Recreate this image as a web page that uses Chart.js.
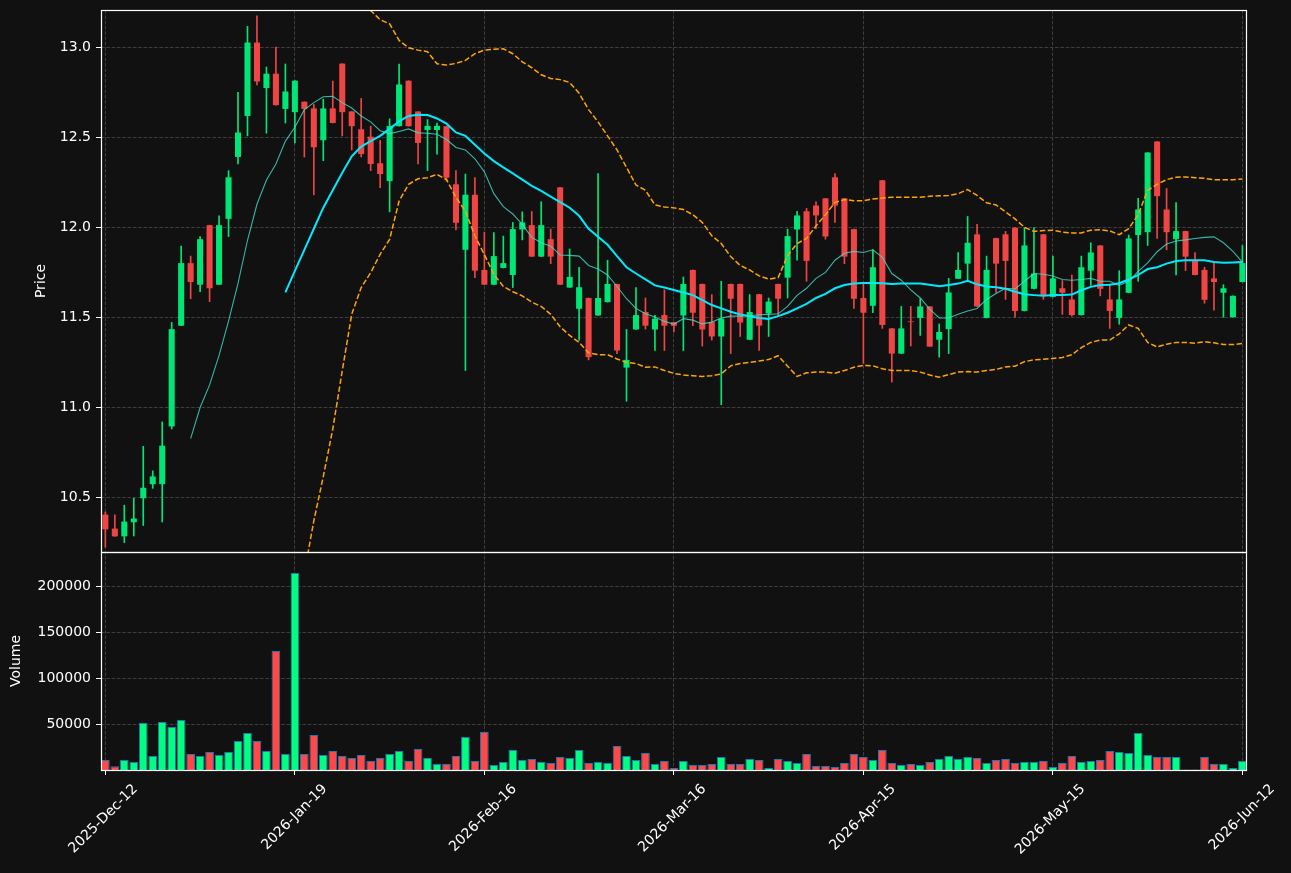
<!DOCTYPE html>
<html>
<head>
<meta charset="utf-8">
<script src="https://cdn.jsdelivr.net/npm/chart.js@4.4.1/dist/chart.umd.min.js"></script>
<style>
  html, body { margin: 0; padding: 0; background: #111111; }
  #wrap { width: 1291px; height: 873px; }
</style>
</head>
<body>
<div id="wrap"><canvas id="c" width="1291" height="873"></canvas></div>
<script>
// ---- data ----
const tickIndex = [0, 20, 40, 60, 80, 100, 120];
const tickLabels = ['2025-Dec-12', '2026-Jan-19', '2026-Feb-16', '2026-Mar-16', '2026-Apr-15', '2026-May-15', '2026-Jun-12'];
const priceTicks = [10.5, 11.0, 11.5, 12.0, 12.5, 13.0];
const volumeTicks = [50000, 100000, 150000, 200000];

const opens = [10.405,10.327,10.284,10.362,10.496,10.574,10.574,10.895,11.455,11.803,
11.683,12.014,11.683,12.049,12.393,12.621,13.029,12.776,12.856,12.66,
12.642,12.70,12.663,12.486,12.663,12.912,12.646,12.547,12.506,12.358,
12.259,12.564,12.817,12.646,12.543,12.543,12.564,12.241,11.877,12.183,
11.765,11.683,11.776,11.737,11.99,12.014,11.839,11.936,12.224,11.667,
11.549,11.609,11.512,11.586,11.687,11.222,11.434,11.531,11.434,11.514,
11.475,11.512,11.765,11.687,11.475,11.395,11.687,11.687,11.377,11.63,
11.523,11.687,11.722,11.99,12.091,12.123,12.163,12.28,12.163,11.992,
11.609,11.566,12.263,11.44,11.30,11.479,11.498,11.562,11.377,11.436,
11.716,11.80,11.963,11.498,11.942,11.963,12.0,11.537,11.66,11.963,
11.615,11.663,11.601,11.514,11.761,11.901,11.601,11.498,11.638,11.959,
11.975,12.479,12.101,11.936,11.981,11.819,11.765,11.718,11.638,11.502,
11.698];
const highs = [10.42,10.403,10.457,10.496,10.784,10.648,10.92,11.473,11.897,11.842,
11.951,12.014,12.066,12.317,12.753,13.119,13.177,12.893,13.004,12.91,
12.817,12.70,12.685,12.714,12.815,12.912,12.646,12.718,12.564,12.486,
12.605,12.909,12.817,12.646,12.601,12.582,12.564,12.317,12.298,12.278,
11.975,11.973,11.953,12.029,12.088,12.09,12.144,11.992,12.224,11.881,
11.78,11.609,12.30,11.819,11.687,11.434,11.667,11.609,11.512,11.654,
11.475,11.726,11.765,11.687,11.628,11.702,11.687,11.687,11.628,11.63,
11.609,11.687,11.992,12.091,12.107,12.144,12.163,12.30,12.163,11.992,
11.687,11.877,12.263,11.44,11.562,11.562,11.605,11.562,11.465,11.718,
11.862,12.062,12.018,11.842,11.942,11.979,12.0,12.0,12.0,11.963,
11.842,11.706,11.737,11.842,11.916,11.901,11.683,11.761,11.959,12.163,
12.418,12.479,12.218,12.14,11.981,11.862,11.78,11.803,11.683,11.621,
11.901];
const lows = [10.224,10.284,10.249,10.286,10.344,10.551,10.364,10.881,11.455,11.605,
11.644,11.589,11.683,11.951,12.354,12.51,12.794,12.525,12.681,12.582,
12.471,12.393,12.183,12.372,12.582,12.51,12.432,12.393,12.317,12.222,
12.088,12.564,12.564,12.354,12.317,12.409,12.26,11.988,11.206,11.722,
11.683,11.683,11.776,11.667,11.932,11.839,11.839,11.80,11.683,11.667,
11.375,11.265,11.512,11.586,11.30,11.035,11.434,11.436,11.317,11.317,
11.42,11.317,11.455,11.342,11.375,11.016,11.30,11.395,11.377,11.317,
11.395,11.512,11.609,11.819,11.702,11.994,11.936,12.029,11.80,11.551,
11.245,11.527,11.44,11.142,11.30,11.342,11.401,11.339,11.28,11.30,
11.716,11.702,11.562,11.498,11.64,11.601,11.502,11.537,11.66,11.601,
11.615,11.518,11.508,11.514,11.679,11.621,11.44,11.463,11.638,11.702,
11.901,11.94,11.877,11.737,11.761,11.737,11.58,11.541,11.502,11.502,
11.698];
const closes = [10.323,10.284,10.366,10.383,10.554,10.617,10.788,11.436,11.803,11.698,
11.936,11.663,12.014,12.28,12.529,13.029,12.813,12.856,12.681,12.757,
12.817,12.66,12.447,12.663,12.582,12.642,12.564,12.409,12.354,12.298,
12.566,12.796,12.564,12.471,12.566,12.566,12.278,12.027,12.183,11.761,
11.683,11.842,11.803,11.992,12.029,11.839,12.014,11.839,11.683,11.726,
11.669,11.28,11.609,11.687,11.317,11.265,11.514,11.455,11.494,11.455,
11.455,11.687,11.527,11.434,11.395,11.494,11.605,11.473,11.531,11.455,
11.589,11.605,11.953,12.068,11.815,12.068,11.951,12.123,11.839,11.605,
11.527,11.78,11.459,11.30,11.44,11.475,11.562,11.339,11.42,11.64,
11.765,11.916,11.562,11.765,11.80,11.815,11.537,11.901,11.745,11.625,
11.718,11.638,11.514,11.78,11.862,11.66,11.537,11.601,11.94,12.101,
12.418,12.175,11.975,11.981,11.839,11.737,11.599,11.698,11.663,11.621,
11.803];
const volumes = [10900,4000,10900,8700,51100,15200,52200,46700,54300,17400,
15200,19600,16300,19600,31500,40200,31500,20700,129300,17400,
214100,17400,38000,16300,20700,15200,13000,16300,9800,13000,
17400,20700,9800,22800,13000,6500,6500,15200,35900,9800,
41300,5400,8700,21700,10900,12000,8700,7600,14100,13000,
21700,7600,8700,7600,26100,15200,10900,18500,6500,9800,
2200,9800,5400,5400,6500,14100,6500,6500,12000,10900,
2200,12000,9800,7600,17400,4300,4300,3300,7600,17400,
14100,10900,21700,7600,5400,6500,5400,8700,12000,15200,
12000,14100,13000,7600,10900,12000,7600,8700,8700,9800,
3300,7600,15200,8700,9800,10900,20700,19600,18500,40200,
16300,14100,14100,14100,600,600,14100,6500,6500,2200,
9800];
const sma10 = [null,null,null,null,null,null,null,null,null,10.827,
11.0,11.126,11.29,11.48,11.69,11.93,12.13,12.265,12.354,12.481,
12.558,12.656,12.695,12.728,12.73,12.695,12.665,12.621,12.588,12.539,
12.523,12.535,12.549,12.527,12.525,12.519,12.49,12.446,12.432,12.383,
12.31,12.189,12.117,12.076,12.018,11.946,11.916,11.897,11.848,11.846,
11.842,11.79,11.77,11.737,11.673,11.605,11.551,11.521,11.504,11.479,
11.463,11.494,11.486,11.465,11.475,11.498,11.508,11.508,11.51,11.516,
11.518,11.521,11.562,11.624,11.663,11.718,11.751,11.819,11.858,11.868,
11.862,11.877,11.835,11.745,11.708,11.654,11.609,11.547,11.498,11.498,
11.519,11.537,11.551,11.601,11.634,11.663,11.659,11.702,11.745,11.741,
11.731,11.712,11.708,11.712,11.718,11.702,11.702,11.679,11.702,11.757,
11.804,11.866,11.909,11.926,11.932,11.94,11.946,11.949,11.916,11.868,
11.809];
const sma20 = [null,null,null,null,null,null,null,null,null,null,
null,null,null,null,null,null,null,null,null,11.64,
11.76,11.877,11.994,12.111,12.208,12.305,12.397,12.451,12.481,12.51,
12.549,12.591,12.621,12.628,12.626,12.607,12.578,12.529,12.51,12.461,
12.412,12.37,12.335,12.302,12.267,12.232,12.204,12.173,12.142,12.111,
12.066,11.994,11.949,11.905,11.842,11.78,11.745,11.712,11.679,11.667,
11.654,11.64,11.625,11.597,11.57,11.551,11.533,11.518,11.508,11.498,
11.492,11.508,11.527,11.551,11.576,11.609,11.632,11.663,11.681,11.689,
11.693,11.693,11.691,11.687,11.689,11.689,11.689,11.683,11.675,11.681,
11.689,11.704,11.685,11.673,11.669,11.66,11.644,11.63,11.625,11.621,
11.626,11.625,11.628,11.652,11.671,11.681,11.683,11.691,11.712,11.737,
11.77,11.78,11.8,11.815,11.819,11.819,11.819,11.809,11.805,11.807,
11.809];
const bbUpper = [null,null,null,null,null,null,null,null,null,null,
null,null,null,null,null,null,null,null,null,13.61,
13.64,13.68,13.62,13.6,13.54,13.41,13.28,13.24,13.207,13.156,
13.133,13.041,13.0,12.987,12.978,12.911,12.904,12.913,12.93,12.967,
12.987,12.992,12.994,12.967,12.922,12.889,12.85,12.829,12.823,12.807,
12.747,12.656,12.588,12.51,12.432,12.335,12.237,12.208,12.126,12.115,
12.11,12.101,12.072,12.029,11.955,11.912,11.839,11.79,11.765,11.732,
11.714,11.722,11.844,11.912,11.94,12.01,12.072,12.14,12.156,12.15,
12.15,12.16,12.165,12.169,12.169,12.169,12.169,12.175,12.177,12.179,
12.189,12.212,12.179,12.138,12.126,12.088,12.049,12.002,11.979,11.984,
11.986,11.975,11.971,11.971,11.986,11.988,11.982,11.961,11.994,12.072,
12.208,12.241,12.267,12.28,12.282,12.278,12.274,12.267,12.267,12.267,
12.27];
const bbLower = [null,null,null,null,null,null,null,null,null,null,
null,null,null,null,null,null,null,null,null,9.67,
9.88,10.08,10.37,10.617,10.88,11.204,11.519,11.667,11.75,11.852,
11.935,12.148,12.241,12.272,12.278,12.296,12.267,12.169,12.091,11.955,
11.85,11.741,11.673,11.644,11.621,11.586,11.562,11.518,11.449,11.401,
11.362,11.304,11.294,11.294,11.27,11.251,11.245,11.224,11.226,11.206,
11.19,11.181,11.177,11.173,11.177,11.187,11.232,11.245,11.251,11.259,
11.267,11.288,11.23,11.173,11.193,11.197,11.197,11.191,11.206,11.224,
11.235,11.232,11.216,11.206,11.206,11.206,11.197,11.181,11.169,11.183,
11.197,11.2,11.197,11.206,11.212,11.226,11.23,11.255,11.265,11.268,
11.273,11.278,11.294,11.333,11.362,11.375,11.375,11.41,11.459,11.44,
11.362,11.337,11.352,11.362,11.362,11.358,11.366,11.36,11.35,11.35,
11.356];

// ---- styles ----
const UP = '#00e676', DOWN = '#f04545';
const VUP = '#00ff80', VDOWN = '#ff4848';
const GRID = '#3d3d3d';
const FONT = { family: 'DejaVu Sans', size: 14 };

const isUp = closes.map((c, i) => c >= opens[i]);
const candleColors = isUp.map(u => u ? UP : DOWN);
const volColors = isUp.map(u => u ? VUP : VDOWN);

const wickData = highs.map((h, i) => ({ x: i, y: [lows[i], h] }));
const bodyData = opens.map((o, i) => ({ x: i, y: [o, closes[i]] }));
const volData = volumes.map((v, i) => ({ x: i, y: v }));
const toXY = arr => arr.map((v, i) => ({ x: i, y: v }));

const panelClip = {
  id: 'panelClip',
  beforeDatasetDraw(chart, args) {
    const s = chart.scales[args.meta.yAxisID];
    const ctx = chart.ctx;
    ctx.save();
    ctx.beginPath();
    ctx.rect(chart.chartArea.left, s.top, chart.chartArea.right - chart.chartArea.left, s.bottom - s.top);
    ctx.clip();
  },
  afterDatasetDraw(chart) { chart.ctx.restore(); }
};
const frame = {
  id: 'frame',
  afterDraw(chart) {
    const ctx = chart.ctx;
    const a = chart.chartArea;
    ctx.save();
    ctx.strokeStyle = '#ffffff';
    ctx.lineWidth = 1.2;
    ['y', 'yVol'].forEach(id => {
      const s = chart.scales[id];
      ctx.strokeRect(Math.round(a.left) + 0.5, Math.round(s.top) + 0.5,
        Math.round(a.right - a.left), Math.round(s.bottom - s.top));
    });
    ctx.restore();
  }
};
const fitY = s => { s.width = 101; s.paddingTop = 0; s.paddingBottom = 0; };

new Chart(document.getElementById('c'), {
  type: 'bar',
  data: {
    datasets: [
      { type: 'line', label: 'SMA10', data: toXY(sma10), yAxisID: 'y', borderColor: 'rgba(64,224,208,0.8)', borderWidth: 1.1, pointRadius: 0, tension: 0, order: 1 },
      { type: 'line', label: 'SMA20', data: toXY(sma20), yAxisID: 'y', borderColor: '#00eaff', borderWidth: 2, pointRadius: 0, tension: 0, order: 1 },
      { type: 'line', label: 'BB upper', data: toXY(bbUpper), yAxisID: 'y', borderColor: '#ffa500', borderWidth: 1.5, borderDash: [5.5, 2.4], pointRadius: 0, tension: 0, order: 1 },
      { type: 'line', label: 'BB lower', data: toXY(bbLower), yAxisID: 'y', borderColor: '#ffa500', borderWidth: 1.5, borderDash: [5.5, 2.4], pointRadius: 0, tension: 0, order: 1 },
      { label: 'wick', data: wickData, yAxisID: 'y', backgroundColor: candleColors, barThickness: 1, grouped: false, borderWidth: 0, order: 3 },
      { label: 'body', data: bodyData, yAxisID: 'y', backgroundColor: candleColors, barPercentage: 0.64, categoryPercentage: 1, grouped: false, borderWidth: 0, order: 2 },
      { label: 'Volume', data: volData, yAxisID: 'yVol', backgroundColor: volColors, borderColor: '#1f77b4', borderWidth: 1, barPercentage: 0.92, categoryPercentage: 1, grouped: false, order: 4 }
    ]
  },
  options: {
    responsive: false,
    animation: false,
    devicePixelRatio: 1,
    layout: { padding: { top: 10, right: 45, bottom: 0, left: 0 } },
    plugins: { legend: { display: false }, tooltip: { enabled: false } },
    scales: {
      x: {
        type: 'linear', min: -0.46, max: 120.38, offset: false, position: 'bottom',
        grid: { color: GRID, offset: false, tickLength: 5, tickColor: '#ffffff', tickWidth: 1 },
        border: { display: false, dash: [3.7, 1.6] },
        ticks: { color: '#ffffff', font: FONT, minRotation: 45, maxRotation: 45, autoSkip: false, padding: 6, labelOffset: 30,
          callback: (v, i) => tickLabels[i] },
        afterBuildTicks: a => { a.ticks = tickIndex.map(v => ({ value: v })); },
        afterFit: s => { s.height = 103; s.paddingLeft = 0; s.paddingRight = 0; }
      },
      y: {
        type: 'linear', min: 10.197, max: 13.21, position: 'left', stack: 'panels', stackWeight: 542, weight: 1,
        grid: { color: GRID, tickLength: 5, tickColor: '#ffffff', tickWidth: 1 },
        border: { display: false, dash: [3.7, 1.6] },
        ticks: { color: '#ffffff', font: FONT, padding: 5, callback: v => Number(v).toFixed(1) },
        afterBuildTicks: a => { a.ticks = priceTicks.map(v => ({ value: v })); },
        afterFit: fitY,
        title: { display: true, text: 'Price', color: '#ffffff', font: FONT, padding: { top: 33, bottom: 0 } }
      },
      yVol: {
        type: 'linear', min: 0, max: 237000, position: 'left', stack: 'panels', stackWeight: 218, weight: 0,
        grid: { color: GRID, tickLength: 5, tickColor: '#ffffff', tickWidth: 1 },
        border: { display: false, dash: [3.7, 1.6] },
        ticks: { color: '#ffffff', font: FONT, padding: 5, callback: v => String(v) },
        afterBuildTicks: a => { a.ticks = volumeTicks.map(v => ({ value: v })); },
        afterFit: fitY,
        title: { display: true, text: 'Volume', color: '#ffffff', font: FONT, padding: { top: 8, bottom: 0 } }
      }
    }
  },
  plugins: [panelClip, frame]
});
</script>
</body>
</html>
